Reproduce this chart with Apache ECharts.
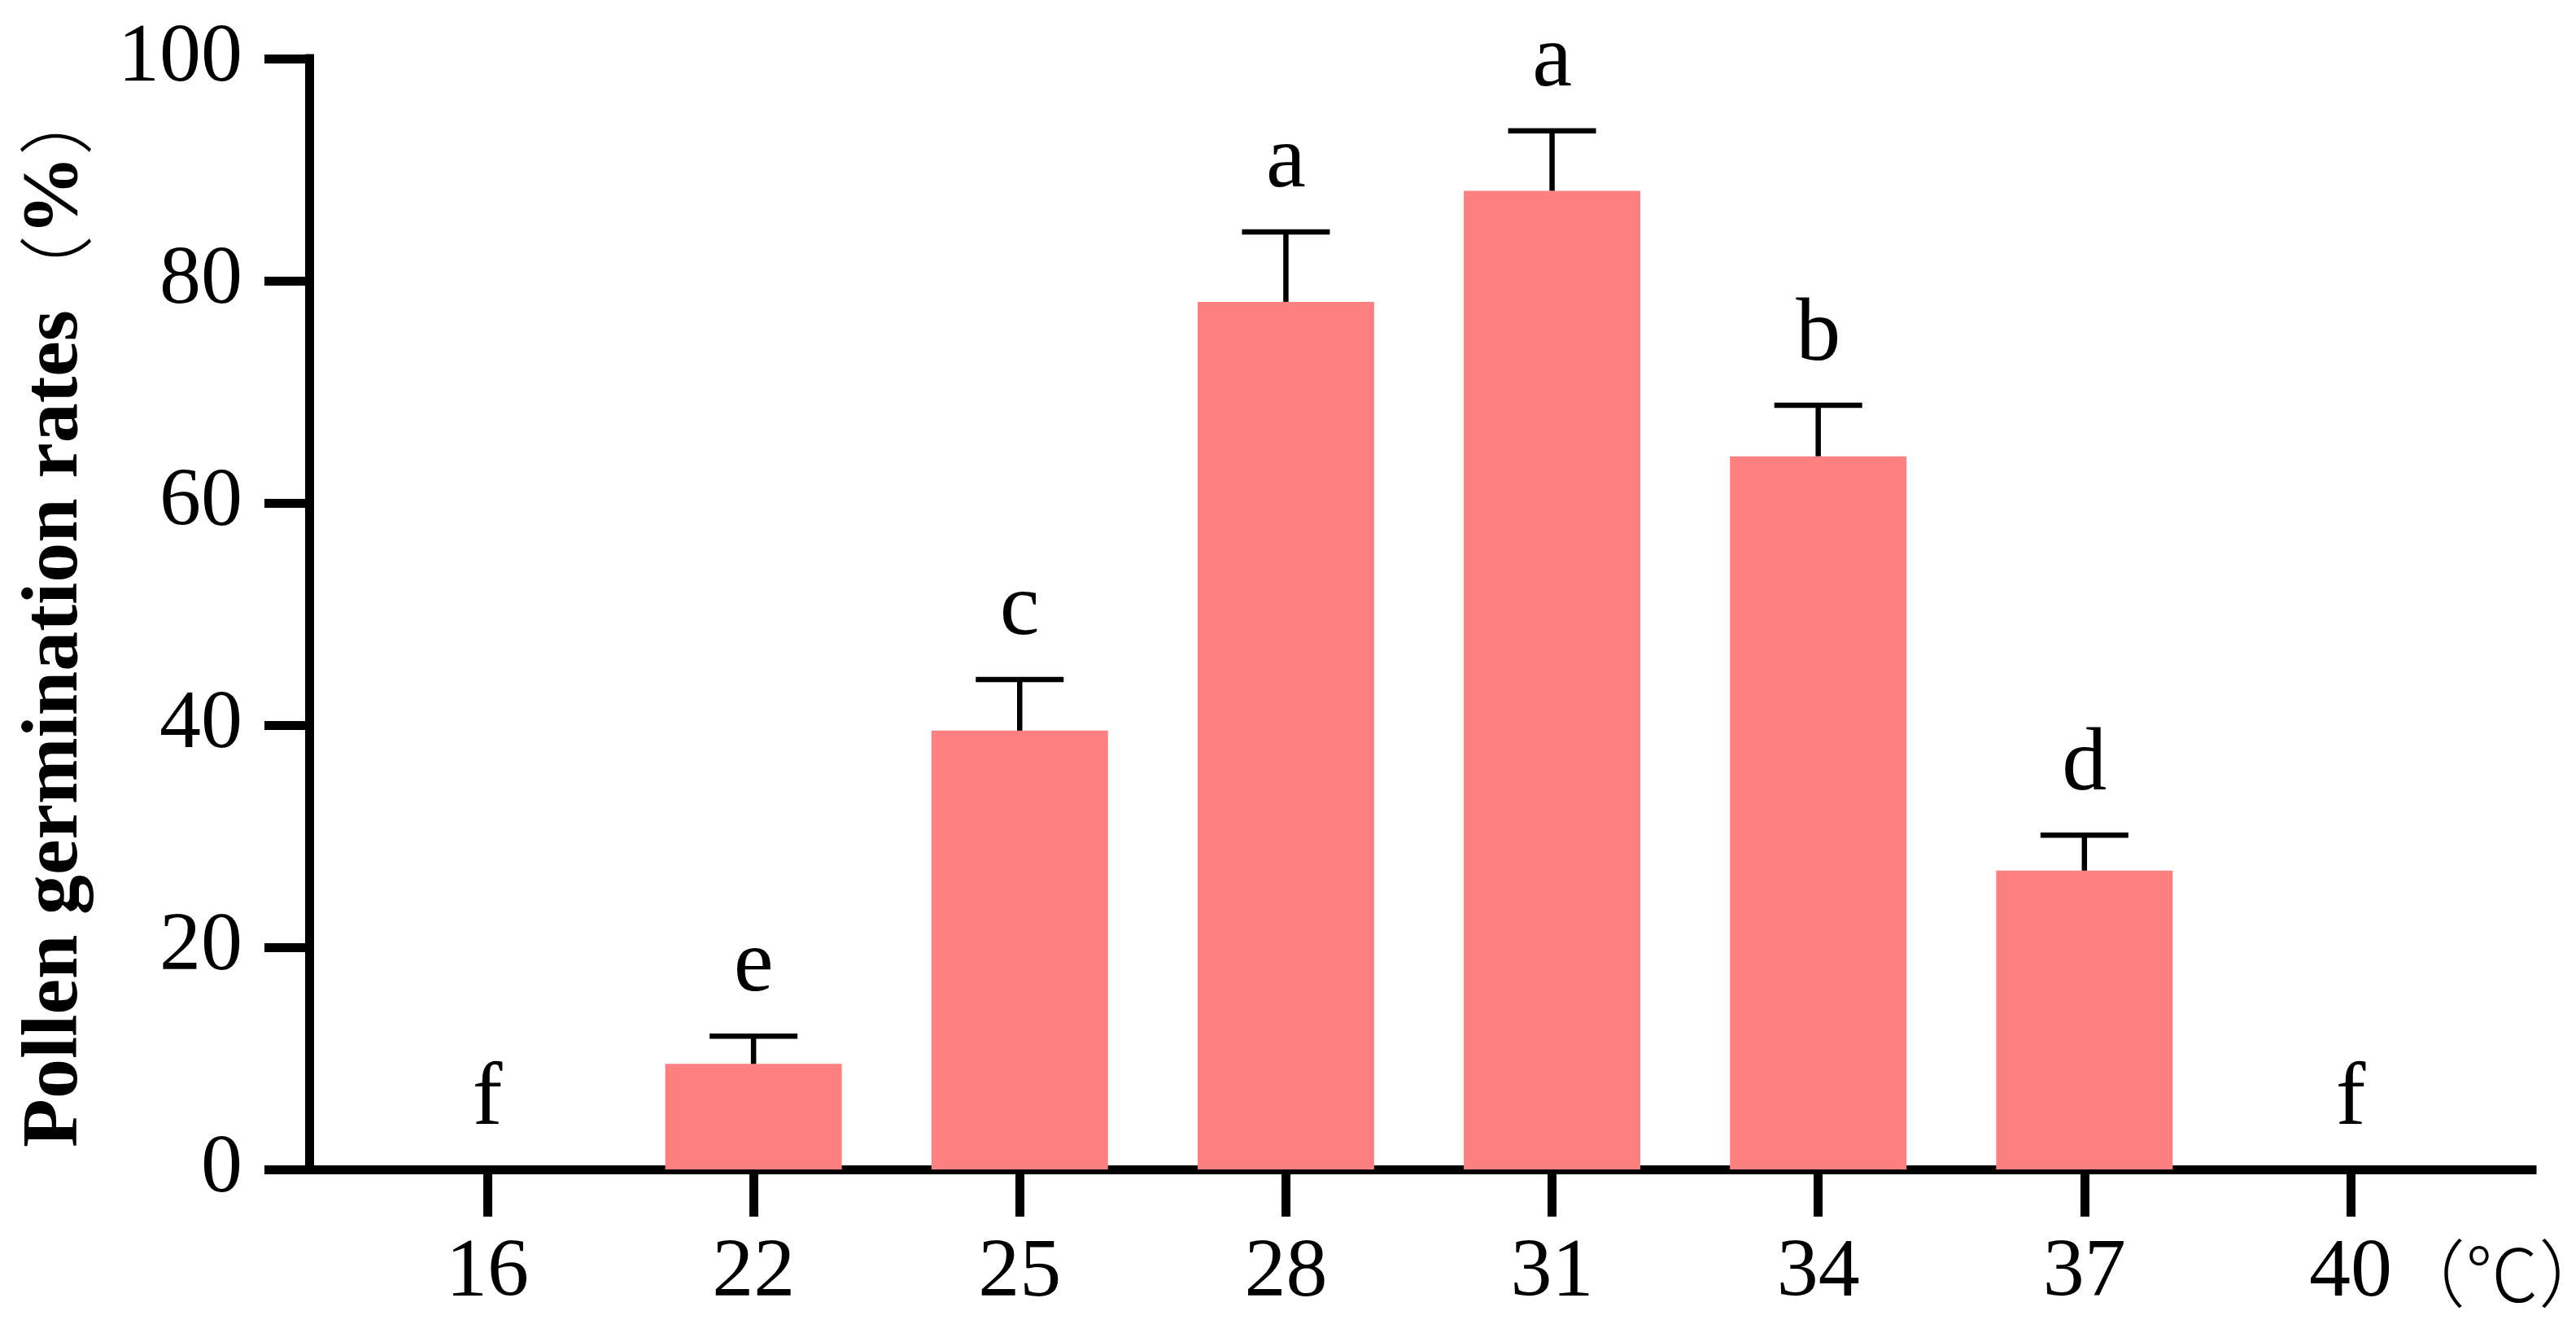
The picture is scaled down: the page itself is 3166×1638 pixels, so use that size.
<!DOCTYPE html>
<html>
<head>
<meta charset="utf-8">
<script src="https://cdn.jsdelivr.net/npm/echarts@6/dist/echarts.min.js"></script>
<style>
  html, body { margin: 0; padding: 0; background: #ffffff; }
  #chart { width: 3166px; height: 1638px; }
</style>
</head>
<body>
<div id="chart"></div>
<script>
// ---- data ----
const temperatures = ['16', '22', '25', '28', '31', '34', '37', '40'];
const germinationRates = [0, 9.5, 39.5, 78.1, 88.1, 64.2, 26.9, 0];
const errorsUpper = [0, 2.5, 4.6, 6.3, 5.4, 4.6, 3.2, 0];
const letters = ['f', 'e', 'c', 'a', 'a', 'b', 'd', 'f'];
const yTicks = [0, 20, 40, 60, 80, 100];
const unitLabel = '（℃）';
const yTitleMain = 'Pollen germination rates';
const yTitleUnit = '%';

// ---- styling ----
const SERIF = '"Liberation Serif", "Times New Roman", "Noto Sans CJK SC", serif';
const CJK = '"Noto Sans CJK SC", "Liberation Serif", sans-serif';
const BAR_COLOR = '#FF8080';
const AXIS_W = 11;
const ERR_W = 6.5;
const CAP_HALF = 54;
const LETTER_GAP = 30;

const indices = temperatures.map((t, i) => i);
const barData = germinationRates.map((v, i) => [i, v]);
const errData = germinationRates.map((v, i) => [i, v, errorsUpper[i]]);

const chart = echarts.init(document.getElementById('chart'), null, { renderer: 'canvas' });

const option = {
  animation: false,
  backgroundColor: '#ffffff',
  grid: { left: 380, right: 54, top: 72, bottom: 201, outerBoundsMode: 'none' },
  xAxis: {
    type: 'value',
    min: -0.6694,
    max: 7.6818,
    splitLine: { show: false },
    axisLine: { show: true, onZero: false, lineStyle: { color: '#000', width: AXIS_W, cap: 'square' } },
    axisTick: { show: true, customValues: indices, length: 58, lineStyle: { color: '#000', width: AXIS_W } },
    axisLabel: {
      show: true,
      customValues: indices,
      margin: 77,
      fontFamily: SERIF,
      fontSize: 102,
      color: '#000',
      formatter: function (val) {
        const i = Math.round(val);
        if (i === temperatures.length - 1) {
          return '{p| }{n|' + temperatures[i] + '}{u|' + unitLabel + '}';
        }
        return temperatures[i];
      },
      rich: {
        p: { width: 270, fontSize: 102, fontFamily: SERIF },
        n: { fontSize: 102, fontFamily: SERIF, color: '#000' },
        u: { width: 270, fontSize: 90, fontFamily: CJK, fontWeight: 300, color: '#000', align: 'left' }
      }
    }
  },
  yAxis: {
    type: 'value',
    min: 0,
    max: 100,
    interval: 20,
    name: '{m|' + yTitleMain + '}{p|（}{m|' + yTitleUnit + '}{p|）}',
    nameLocation: 'middle',
    nameRotate: 90,
    nameGap: 262,
    nameTextStyle: {
      fontFamily: SERIF, fontSize: 98, fontWeight: 'bold', color: '#000',
      rich: {
        m: { fontFamily: SERIF, fontSize: 98, fontWeight: 'bold', color: '#000' },
        p: { fontFamily: CJK, fontSize: 92, fontWeight: 300, color: '#000' }
      }
    },
    splitLine: { show: false },
    axisLine: { show: true, onZero: false, lineStyle: { color: '#000', width: AXIS_W, cap: 'square' } },
    axisTick: { show: true, length: 55, lineStyle: { color: '#000', width: AXIS_W } },
    axisLabel: { margin: 82, fontFamily: SERIF, fontSize: 102, color: '#000' }
  },
  series: [
    {
      type: 'bar',
      data: barData,
      barWidth: 217,
      itemStyle: { color: BAR_COLOR },
      z: 1
    },
    {
      type: 'custom',
      data: errData,
      z: 5,
      clip: false,
      renderItem: function (params, api) {
        const x = api.value(0);
        const v = api.value(1);
        const e = api.value(2);
        const base = api.coord([x, v]);
        const top = api.coord([x, v + e]);
        const children = [];
        if (e > 0) {
          children.push({
            type: 'line',
            shape: { x1: base[0], y1: base[1], x2: top[0], y2: top[1] },
            style: { stroke: '#000', lineWidth: ERR_W }
          });
          children.push({
            type: 'line',
            shape: { x1: top[0] - CAP_HALF, y1: top[1], x2: top[0] + CAP_HALF, y2: top[1] },
            style: { stroke: '#000', lineWidth: ERR_W }
          });
        }
        children.push({
          type: 'text',
          x: top[0],
          y: top[1] - LETTER_GAP,
          style: {
            text: letters[params.dataIndex],
            fontFamily: SERIF,
            fontSize: 110,
            fill: '#000',
            align: 'center',
            verticalAlign: 'bottom'
          }
        });
        return { type: 'group', children: children };
      }
    }
  ]
};

chart.setOption(option);
</script>
</body>
</html>
